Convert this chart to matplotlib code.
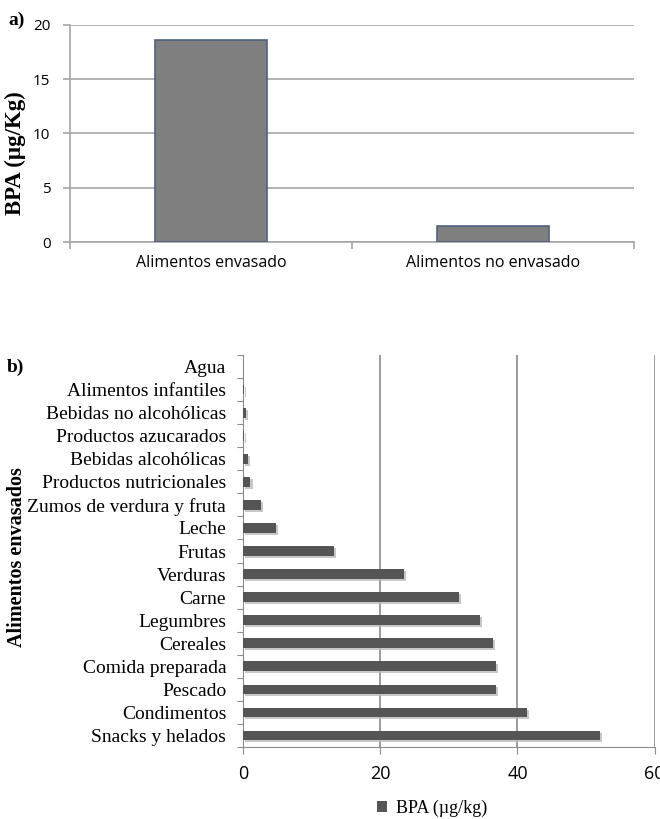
import matplotlib
matplotlib.use("Agg")
import matplotlib.pyplot as plt
import matplotlib.patheffects as pe
from matplotlib.patches import Patch
import numpy as np

# Panel a data
cat_a = ["Alimentos envasado", "Alimentos no envasado"]
val_a = [18.6, 1.5]
yticks_a = [0, 5, 10, 15, 20]

# Panel b data (top to bottom)
cat_b = ["Agua", "Alimentos infantiles", "Bebidas no alcohólicas", "Productos azucarados",
         "Bebidas alcohólicas", "Productos nutricionales", "Zumos de verdura y fruta",
         "Leche", "Frutas", "Verduras", "Carne", "Legumbres", "Cereales",
         "Comida preparada", "Pescado", "Condimentos", "Snacks y helados"]
val_b = [0.0, 0.2, 0.4, 0.1, 0.7, 1.1, 2.6, 4.8, 13.3, 23.5, 31.5, 34.6, 36.5,
         36.9, 36.9, 41.4, 52.0]
xticks_b = [0, 20, 40, 60]

fig = plt.figure(figsize=(6.6, 8.19), dpi=100)

serif = "Liberation Serif"
sans = "Open Sans"

# ---------- Panel a ----------
ax1 = fig.add_axes([0.106, 0.7045, 0.8545, 0.265])
x = np.arange(len(cat_a))
ax1.bar(x, val_a, width=0.4, color="#7f7f7f", edgecolor="#4f6180", linewidth=1.2, zorder=3)
ax1.set_xlim(-0.5, 1.5)
ax1.set_ylim(0, 20)
ax1.set_yticks(yticks_a)
ax1.set_yticklabels([str(v) for v in yticks_a], fontsize=11, family=sans)
ax1.grid(axis="y", color="#a6a6a6", linewidth=1.2, zorder=0)
ax1.set_xticks([-0.5, 0.5, 1.5])
ax1.set_xticklabels([])
ax1.set_xticks(x, minor=True)
ax1.set_xticklabels(cat_a, minor=True, fontsize=11.5, family=sans)
ax1.tick_params(axis="x", which="minor", length=0, pad=9)
ax1.tick_params(axis="x", which="major", length=5, color="#a6a6a6", width=1.2)
ax1.tick_params(axis="y", length=5, color="#a6a6a6", pad=9, width=1.2)
for s in ["top", "right"]:
    ax1.spines[s].set_visible(False)
for s in ["left", "bottom"]:
    ax1.spines[s].set_color("#a6a6a6")
    ax1.spines[s].set_linewidth(1.2)
fig.text(0.023, 0.813, "BPA (µg/Kg)", rotation=90, fontsize=16.5, family=serif,
         fontweight="bold", va="center", ha="center")
fig.text(0.012, 0.975, "a)", fontsize=14, family=serif, fontweight="bold", va="center")

# ---------- Panel b ----------
ax2 = fig.add_axes([0.368, 0.0879, 0.624, 0.4786])
y = np.arange(len(cat_b))
ax2.barh(y, val_b, height=0.42, color="#555555", zorder=3,
         path_effects=[pe.SimplePatchShadow(offset=(1.5, -1.5), shadow_rgbFace="#bbbbbb", alpha=0.8),
                       pe.Normal()])
ax2.set_ylim(len(cat_b) - 0.5, -0.5)
ax2.set_xlim(0, 60)
ax2.set_xticks(xticks_b)
ax2.set_xticklabels([str(v) for v in xticks_b], fontsize=13, family=sans)
ax2.grid(axis="x", color="#808080", linewidth=1.1, zorder=0)
ax2.set_yticks(np.arange(-0.5, len(cat_b), 1))
ax2.set_yticklabels([])
ax2.set_yticks(y, minor=True)
ax2.set_yticklabels(cat_b, minor=True, fontsize=14, family=serif)
ax2.tick_params(axis="y", which="minor", length=0, pad=12)
ax2.tick_params(axis="y", which="major", length=4, color="#8c8c8c")
ax2.tick_params(axis="x", length=5, color="#8c8c8c", pad=8)
for s in ["top", "right"]:
    ax2.spines[s].set_visible(False)
for s in ["left", "bottom"]:
    ax2.spines[s].set_color("#8c8c8c")
fig.text(0.026, 0.32, "Alimentos envasados", rotation=90, fontsize=14.5, family=serif,
         fontweight="bold", va="center", ha="center")
fig.text(0.011, 0.551, "b)", fontsize=14, family=serif, fontweight="bold", va="center")

# legend
fig.legend(handles=[Patch(facecolor="#555555", label="BPA (µg/kg)")],
           loc="center", bbox_to_anchor=(0.655, 0.0135), frameon=False,
           prop={"family": serif, "size": 13}, handlelength=0.55, handleheight=0.55,
           handletextpad=0.5, borderpad=0)

fig.savefig("out.png", dpi=100)
